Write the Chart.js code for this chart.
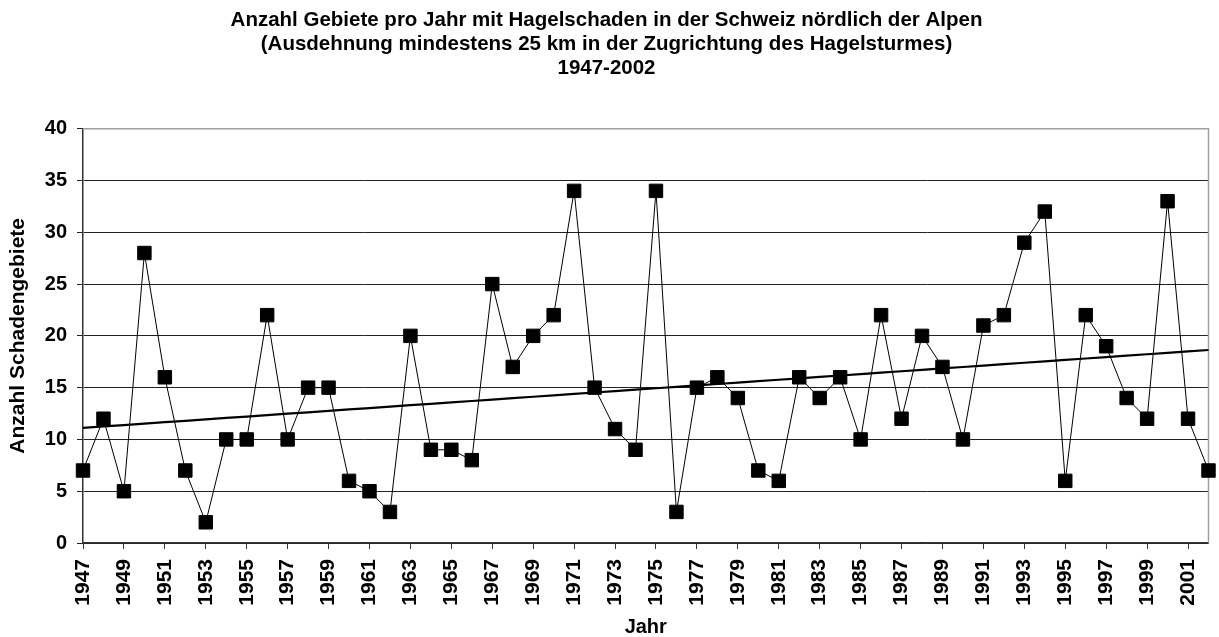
<!DOCTYPE html>
<html>
<head>
<meta charset="utf-8">
<script src="https://cdn.jsdelivr.net/npm/chart.js@4"></script>
<style>
    html, body { margin: 0; padding: 0; background: #ffffff; }
    #wrap { width: 1219px; height: 637px; }
</style>
</head>
<body>
<div id="wrap"><canvas id="hailChart"></canvas></div>
<script>
var years = [];
for (var y = 1947; y <= 2002; y++) years.push(String(y));

var hailAreas = [
    7, 12, 5, 28, 16, 7, 2, 10, 10, 22,
    10, 15, 15, 6, 5, 3, 20, 9, 9, 8,
    25, 17, 20, 22, 34, 15, 11, 9, 34, 3,
    15, 16, 14, 7, 6, 16, 14, 16, 10, 22,
    12, 20, 17, 10, 21, 22, 29, 32, 6, 22,
    19, 14, 12, 33, 12, 7
];

var titleLines = [
    "Anzahl Gebiete pro Jahr mit Hagelschaden in der Schweiz nördlich der Alpen",
    "(Ausdehnung mindestens 25 km in der Zugrichtung des Hagelsturmes)",
    "1947-2002"
];

// linear trend (least squares) of the series
function trendOf(values) {
    var n = values.length, sx = 0, sy = 0, sxy = 0, sxx = 0;
    values.forEach(function(v, i) { sx += i; sy += v; sxy += i * v; sxx += i * i; });
    var b = (n * sxy - sx * sy) / (n * sxx - sx * sx);
    var a = (sy - b * sx) / n;
    return values.map(function(_, i) { return a + b * i; });
}
var trend = trendOf(hailAreas);

// grey frame on top and right of the plot area
var frame = {
    id: "frame",
    beforeDatasetsDraw: function(chart) {
        var a = chart.chartArea, ctx = chart.ctx;
        ctx.save();
        ctx.strokeStyle = "#a0a0a0";
        ctx.lineWidth = 1.5;
        ctx.beginPath();
        ctx.moveTo(a.left, a.top);
        ctx.lineTo(a.right, a.top);
        ctx.lineTo(a.right, a.bottom);
        ctx.stroke();
        ctx.restore();
    }
};

var font = "'Liberation Sans', Arial, sans-serif";

new Chart(document.getElementById("hailChart").getContext("2d"), {
    type: "line",
    data: {
        labels: years,
        datasets: [{
            data: hailAreas,
            borderColor: "#000000",
            borderWidth: 1,
            pointStyle: "rect",
            pointRadius: 9.5,
            pointBackgroundColor: "#000000",
            pointBorderColor: "#000000",
            tension: 0
        }, {
            data: trend,
            borderColor: "#000000",
            borderWidth: 2.2,
            pointRadius: 0,
            tension: 0
        }]
    },
    options: {
        responsive: true,
        maintainAspectRatio: false,
        animation: false,
        layout: { padding: { top: 0, right: 6, bottom: 0, left: 0 } },
        plugins: {
            legend: { display: false },
            tooltip: { enabled: false },
            title: {
                display: true,
                text: titleLines,
                color: "#000000",
                font: { family: font, size: 20.5, weight: "bold", lineHeight: 1.15 },
                padding: { top: 9, bottom: 49 }
            }
        },
        scales: {
            x: {
                offset: false,
                afterFit: function(s) { s.height = 94; s.paddingLeft = 0; s.paddingRight = 0; },
                title: { display: true, text: "Jahr", color: "#000000", font: { family: font, size: 20, weight: "bold", lineHeight: 1 }, padding: { top: 0, bottom: 0 } },
                border: { color: "#333333", width: 1.5 },
                grid: {
                    drawOnChartArea: false,
                    tickLength: 6,
                    color: function(c) { return c.index % 2 === 0 ? "#333333" : "rgba(0,0,0,0)"; }
                },
                ticks: {
                    autoSkip: false,
                    minRotation: 90,
                    maxRotation: 90,
                    padding: 10,
                    color: "#000000",
                    font: { family: font, size: 21, weight: "bold" },
                    callback: function(v, i) { return i % 2 === 0 ? this.getLabelForValue(v) : ""; }
                }
            },
            y: {
                min: 0,
                max: 40,
                afterFit: function(s) { s.width = 83; },
                title: { display: true, text: "Anzahl Schadengebiete", color: "#000000", font: { family: font, size: 21, weight: "bold", lineHeight: 1.2 }, padding: { top: 6, bottom: 0 } },
                border: { color: "#333333", width: 1.5 },
                grid: { color: "#222222", lineWidth: 1, tickLength: 6 },
                ticks: {
                    stepSize: 5,
                    padding: 10,
                    color: "#000000",
                    font: { family: font, size: 20, weight: "bold" }
                }
            }
        }
    },
    plugins: [frame]
});
</script>
</body>
</html>
